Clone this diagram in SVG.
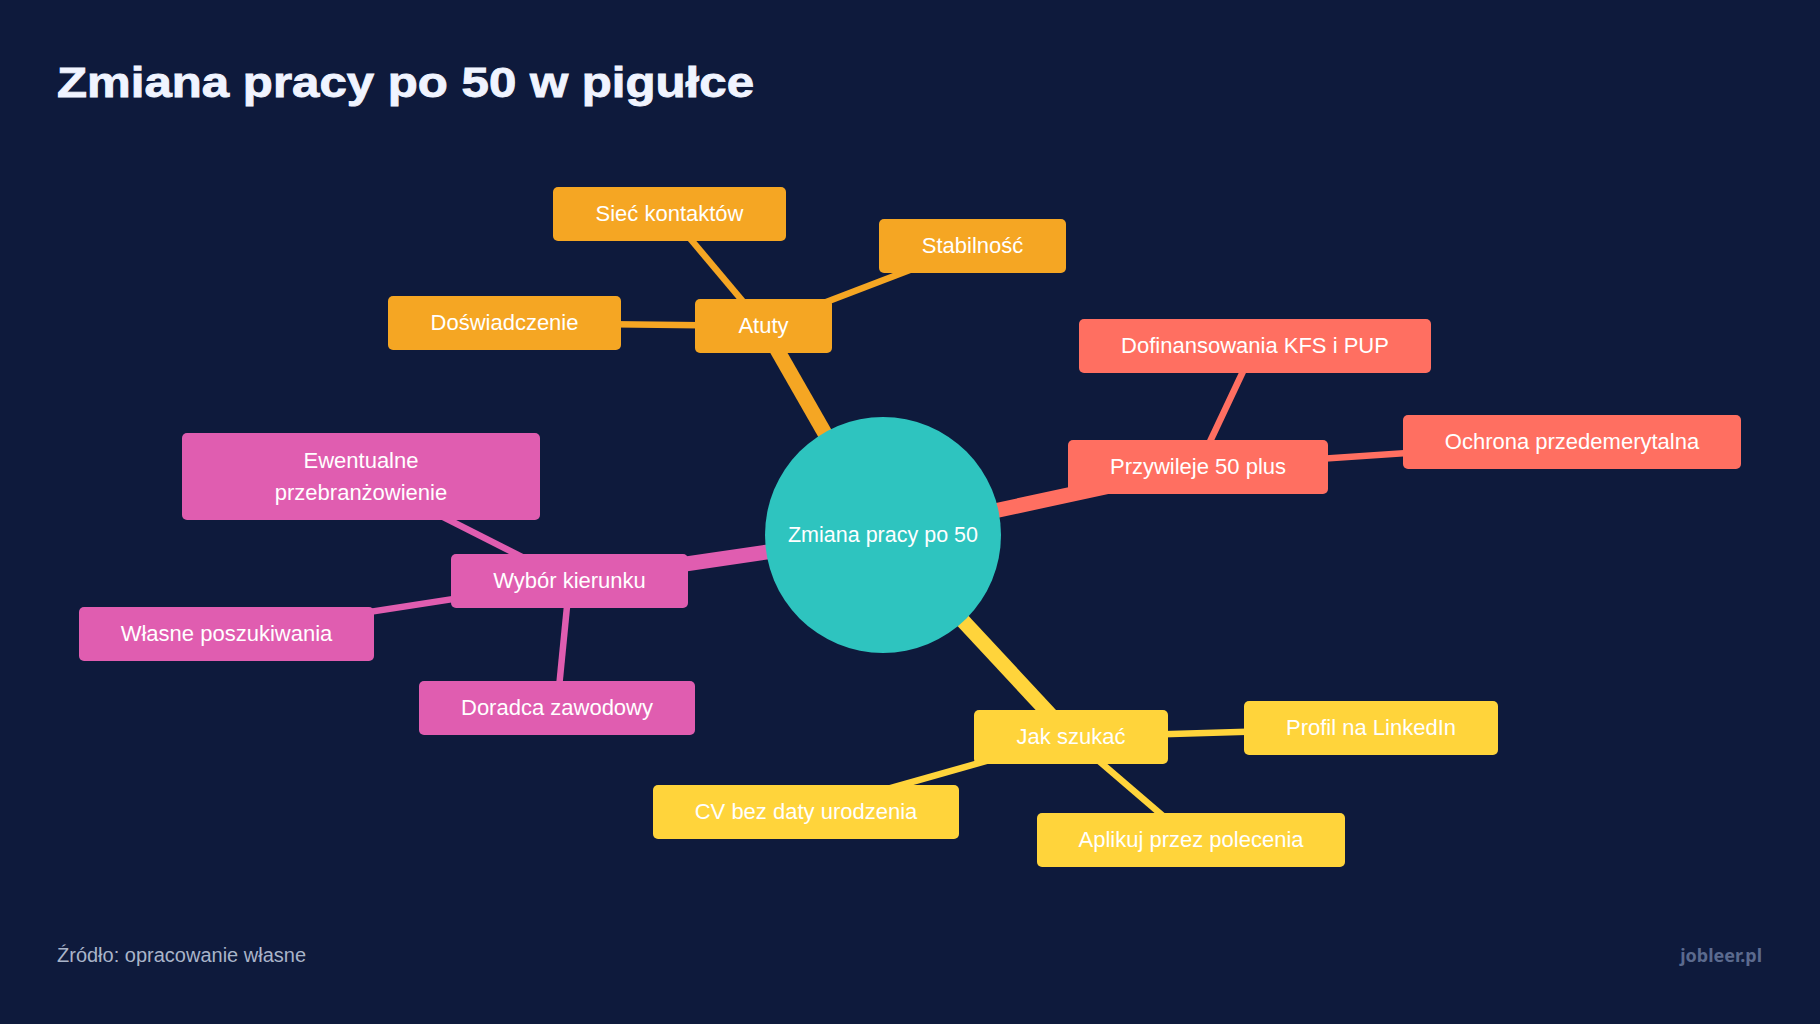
<svg xmlns="http://www.w3.org/2000/svg" width="1820" height="1024" viewBox="0 0 1820 1024">
  <style>
    .bg { fill: #0e1a3c; }
    .title { font-family: "Liberation Sans", Arial, sans-serif; font-weight: 700; font-size: 43px; fill: #f0f4ff; stroke: #f0f4ff; stroke-width: 0.9; }
    .lbl { font-family: "Liberation Sans", Arial, sans-serif; font-size: 22px; fill: #ffffff; text-anchor: middle; }
    .center-lbl { font-family: "Liberation Sans", Arial, sans-serif; font-size: 21.5px; fill: #ffffff; text-anchor: middle; }
    .src { font-family: "Liberation Sans", Arial, sans-serif; font-size: 20px; fill: #a9b4c9; }
    .brand { font-family: "Noto Sans", "Open Sans", sans-serif; font-weight: 700; font-size: 18px; fill: #5b6a8e; text-anchor: end; }
    .orange { fill: #f5a623; }
    .coral { fill: #ff6f61; }
    .pink { fill: #e05db0; }
    .yellow { fill: #ffd43b; }
    .teal { fill: #2ec4bf; }
    .main { stroke-width: 15; stroke-linecap: butt; fill: none; }
    .sub { stroke-width: 6.5; stroke-linecap: butt; fill: none; }
    .s-orange { stroke: #f5a623; }
    .s-coral { stroke: #ff6f61; }
    .s-pink { stroke: #e05db0; }
    .s-yellow { stroke: #ffd43b; }
  </style>
  <rect class="bg" x="0" y="0" width="1820" height="1024"/>
  <text class="title" x="57" y="97" textLength="697" lengthAdjust="spacingAndGlyphs">Zmiana pracy po 50 w pigułce</text>

  <g id="connectors">
    <line class="main s-orange" x1="883" y1="535" x2="763.5" y2="326"/>
    <line class="main s-coral" x1="883" y1="535" x2="1198" y2="467"/>
    <line class="main s-pink" x1="883" y1="535" x2="569.5" y2="581"/>
    <line class="main s-yellow" x1="883" y1="535" x2="1071" y2="737"/>
    <line class="sub s-orange" x1="763.5" y1="326" x2="669.5" y2="214"/>
    <line class="sub s-orange" x1="763.5" y1="326" x2="504.5" y2="323"/>
    <line class="sub s-orange" x1="763.5" y1="326" x2="972.5" y2="246"/>
    <line class="sub s-coral" x1="1198" y1="467" x2="1255" y2="346"/>
    <line class="sub s-coral" x1="1198" y1="467" x2="1572" y2="442"/>
    <line class="sub s-pink" x1="569.5" y1="581" x2="370" y2="480"/>
    <line class="sub s-pink" x1="569.5" y1="581" x2="226.5" y2="634"/>
    <line class="sub s-pink" x1="569.5" y1="581" x2="557" y2="708"/>
    <line class="sub s-yellow" x1="1071" y1="737" x2="1371" y2="728"/>
    <line class="sub s-yellow" x1="1071" y1="737" x2="1191" y2="840"/>
    <line class="sub s-yellow" x1="1071" y1="737" x2="806" y2="812"/>
  </g>

  <g id="node-center">
    <circle class="teal" cx="883" cy="535" r="118"/>
    <text class="center-lbl" x="883" y="542">Zmiana pracy po 50</text>
  </g>

  <g id="node-atuty">
    <rect class="orange" x="695" y="299" width="137" height="54" rx="5"/>
    <text class="lbl" x="763.5" y="333">Atuty</text>
  </g>
  <g id="node-siec">
    <rect class="orange" x="553" y="187" width="233" height="54" rx="5"/>
    <text class="lbl" x="669.5" y="221">Sieć kontaktów</text>
  </g>
  <g id="node-doswiadczenie">
    <rect class="orange" x="388" y="296" width="233" height="54" rx="5"/>
    <text class="lbl" x="504.5" y="330">Doświadczenie</text>
  </g>
  <g id="node-stabilnosc">
    <rect class="orange" x="879" y="219" width="187" height="54" rx="5"/>
    <text class="lbl" x="972.5" y="253">Stabilność</text>
  </g>

  <g id="node-przywileje">
    <rect class="coral" x="1068" y="440" width="260" height="54" rx="5"/>
    <text class="lbl" x="1198" y="474">Przywileje 50 plus</text>
  </g>
  <g id="node-dofinansowania">
    <rect class="coral" x="1079" y="319" width="352" height="54" rx="5"/>
    <text class="lbl" x="1255" y="353">Dofinansowania KFS i PUP</text>
  </g>
  <g id="node-ochrona">
    <rect class="coral" x="1403" y="415" width="338" height="54" rx="5"/>
    <text class="lbl" x="1572" y="449">Ochrona przedemerytalna</text>
  </g>

  <g id="node-wybor">
    <rect class="pink" x="451" y="554" width="237" height="54" rx="5"/>
    <text class="lbl" x="569.5" y="588">Wybór kierunku</text>
  </g>
  <g id="node-ewentualne">
    <rect class="pink" x="182" y="433" width="358" height="87" rx="5"/>
    <text class="lbl" x="361" y="468">Ewentualne</text>
    <text class="lbl" x="361" y="500">przebranżowienie</text>
  </g>
  <g id="node-wlasne">
    <rect class="pink" x="79" y="607" width="295" height="54" rx="5"/>
    <text class="lbl" x="226.5" y="641">Własne poszukiwania</text>
  </g>
  <g id="node-doradca">
    <rect class="pink" x="419" y="681" width="276" height="54" rx="5"/>
    <text class="lbl" x="557" y="715">Doradca zawodowy</text>
  </g>

  <g id="node-jak">
    <rect class="yellow" x="974" y="710" width="194" height="54" rx="5"/>
    <text class="lbl" x="1071" y="744">Jak szukać</text>
  </g>
  <g id="node-profil">
    <rect class="yellow" x="1244" y="701" width="254" height="54" rx="5"/>
    <text class="lbl" x="1371" y="735">Profil na LinkedIn</text>
  </g>
  <g id="node-aplikuj">
    <rect class="yellow" x="1037" y="813" width="308" height="54" rx="5"/>
    <text class="lbl" x="1191" y="847">Aplikuj przez polecenia</text>
  </g>
  <g id="node-cv">
    <rect class="yellow" x="653" y="785" width="306" height="54" rx="5"/>
    <text class="lbl" x="806" y="819">CV bez daty urodzenia</text>
  </g>

  <text class="src" x="57" y="962">Źródło: opracowanie własne</text>
  <text class="brand" x="1762" y="962">jobleer.pl</text>
</svg>
